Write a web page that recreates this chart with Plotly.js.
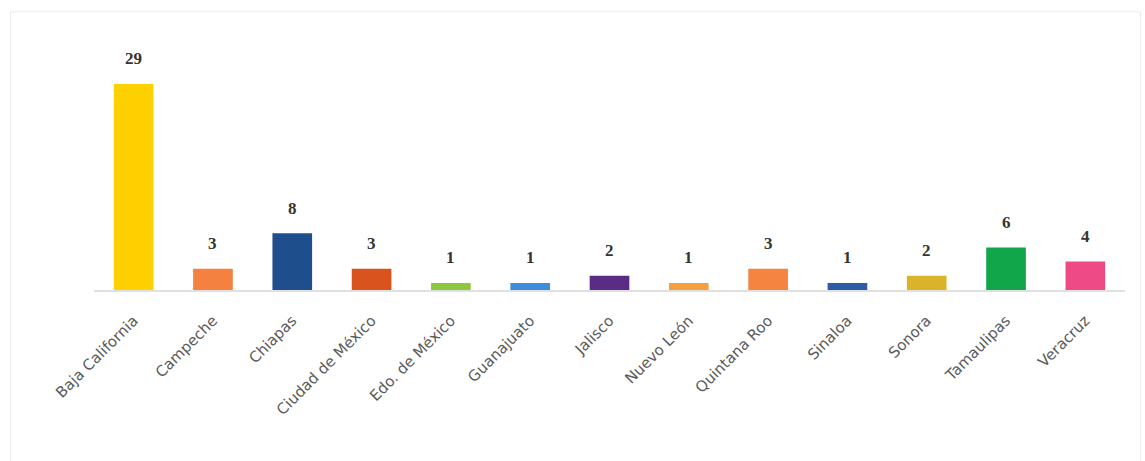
<!DOCTYPE html>
<html>
<head>
<meta charset="utf-8">
<script src="https://cdn.plot.ly/plotly-3.0.1.min.js"></script>
<style>html,body{margin:0;padding:0;background:#fff;}#chart{width:1145px;height:461px;}</style>
</head>
<body>
<div id="chart"></div>
<script>
const states = ["Baja California","Campeche","Chiapas","Ciudad de México","Edo. de México","Guanajuato","Jalisco","Nuevo León","Quintana Roo","Sinaloa","Sonora","Tamaulipas","Veracruz"];
const counts = [29,3,8,3,1,1,2,1,3,1,2,6,4];
const barColors = ["#FFD000","#F4813F","#1F4E8C","#D9531E","#8DC63F","#3C8DDB","#5B2C83","#F4A03C","#F4843F","#2E5DA8","#D9B42A","#12A64B","#EE4B86"];

const trace = {
  type: "bar",
  x: states,
  y: counts,
  marker: {color: barColors},
  cliponaxis: false,
  hoverinfo: "x+y"
};

const valueLabels = states.map((s, i) => ({
  x: s, y: counts[i], xref: "x", yref: "y",
  text: String(counts[i]),
  showarrow: false,
  yanchor: "middle",
  yshift: 25,
  font: {family: "Liberation Serif, DejaVu Serif, serif", size: 17, color: "#333333", weight: "bold"}
}));

const layout = {
  width: 1145, height: 461,
  margin: {l: 94, r: 20, t: 30, b: 171},
  paper_bgcolor: "#ffffff",
  plot_bgcolor: "#ffffff",
  showlegend: false,
  bargap: 0.5,
  xaxis: {
    tickangle: -45,
    tickfont: {family: "DejaVu Sans, sans-serif", size: 15, color: "#5a5a5a"},
    ticklabelstandoff: 14,
    showline: true, linecolor: "#e0e0e0", linewidth: 2,
    showgrid: false, ticks: ""
  },
  yaxis: {
    range: [0, 36.6],
    visible: false,
    showgrid: false, zeroline: false
  },
  annotations: valueLabels,
  shapes: [{
    type: "rect", xref: "paper", yref: "paper",
    x0: -0.081, x1: 1.015, y0: -0.66, y1: 1.07,
    line: {color: "#ececec", width: 1}
  }]
};

Plotly.newPlot("chart", [trace], layout, {staticPlot: true, displayModeBar: false});
</script>
</body>
</html>
